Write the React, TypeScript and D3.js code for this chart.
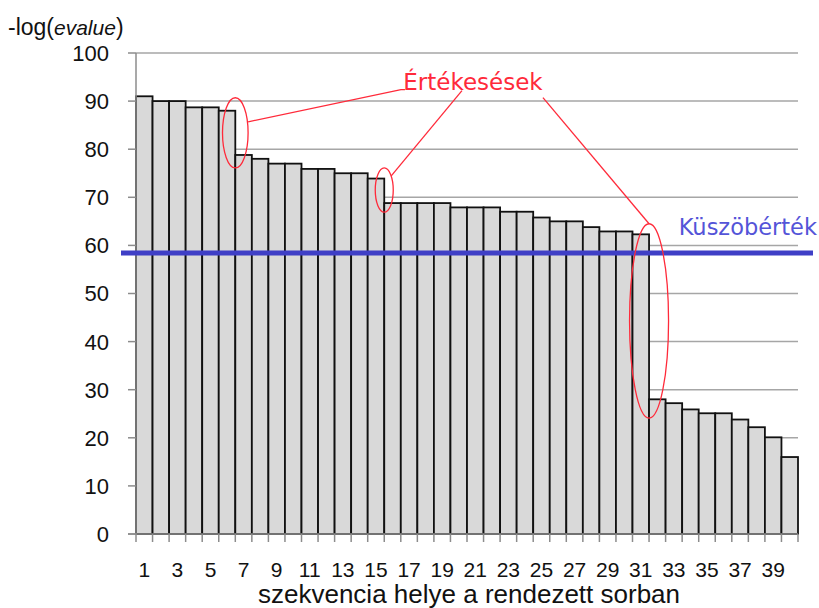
import React from "react";
import * as d3 from "d3";

// -log(evalue) of the sorted sequences
const values = [
  91, 90, 90, 88.7, 88.7, 88, 78.8, 78, 77, 77, 75.9, 75.9, 75, 75, 73.9,
  68.8, 68.8, 68.8, 68.8, 67.9, 67.9, 67.9, 67, 67, 65.8, 65, 65, 63.8, 62.9,
  62.9, 62.3, 28, 27.2, 25.9, 25.1, 25.1, 23.8, 22.2, 20.1, 16,
];
const positions = values.map((_, i) => i + 1);
const xTickLabels = positions.filter((p) => p % 2 === 1);
const yTicks = [0, 10, 20, 30, 40, 50, 60, 70, 80, 90, 100];
const threshold = 58.4;
const thresholdLabel = "Küszöbérték";
const dropLabel = "Értékesések";
// drops: bar boundary index, centre value, half height (value units)
const drops = [
  { at: 6, mid: 83.4, half: 7.3, rx: 12.8 },
  { at: 15, mid: 71.5, half: 4.6, rx: 9 },
  { at: 31, mid: 44.3, half: 20.2, rx: 19.5 },
];
const yTitle = "-log(";
const yTitleItalic = "evalue";
const xTitle = "szekvencia helye a rendezett sorban";

const width = 819;
const height = 608;
const margins = { top: 53, right: 21, bottom: 74, left: 136 };

const App = () => {
  const x = d3
    .scaleBand<number>()
    .domain(positions)
    .range([margins.left, width - margins.right])
    .padding(0);
  const y = d3
    .scaleLinear()
    .domain([0, 100])
    .range([height - margins.bottom, margins.top]);
  // boundary scale for annotations (0..40 bar edges)
  const xb = d3
    .scaleLinear()
    .domain([0, positions.length])
    .range([margins.left, width - margins.right]);

  const y0 = y(0);
  const right = width - margins.right;
  const red = "#ff2a3a";
  const axisFont = "'Liberation Sans', Arial, sans-serif";
  const annFont = "'DejaVu Sans', Verdana, sans-serif";

  const e1 = drops[0];
  const e2 = drops[1];
  const e3 = drops[2];
  const textX = xb(20.36);
  const textY = y(92.4);

  return (
    <svg
      width={width}
      height={height}
      style={{ position: "absolute", left: 0, top: 0, background: "#fff" }}
    >
      {/* grid */}
      {yTicks
        .filter((t) => t > 0)
        .map((t) => (
          <line
            key={t}
            x1={margins.left}
            x2={right}
            y1={y(t)}
            y2={y(t)}
            stroke="#a6a6a6"
            strokeWidth={1.5}
          />
        ))}
      {/* bars */}
      {values.map((v, i) => (
        <rect
          key={i}
          x={x(positions[i])}
          y={y(v)}
          width={x.bandwidth()}
          height={y0 - y(v)}
          fill="#d9d9d9"
          stroke="#111"
          strokeWidth={1.8}
        />
      ))}
      {/* y axis */}
      <line
        x1={margins.left}
        x2={margins.left}
        y1={margins.top}
        y2={y0}
        stroke="#8c8c8c"
        strokeWidth={1.5}
      />
      {yTicks.map((t) => (
        <g key={t}>
          <line
            x1={margins.left - 8}
            x2={margins.left}
            y1={y(t)}
            y2={y(t)}
            stroke="#8c8c8c"
            strokeWidth={1.5}
          />
          <text
            x={109}
            y={y(t)}
            dy="0.36em"
            textAnchor="end"
            fontFamily={axisFont}
            fontSize={22}
            fill="#111"
          >
            {t}
          </text>
        </g>
      ))}
      {/* x axis */}
      <line
        x1={margins.left - 8}
        x2={right}
        y1={y0}
        y2={y0}
        stroke="#8c8c8c"
        strokeWidth={1.5}
      />
      {d3.range(positions.length + 1).map((k) => (
        <line
          key={k}
          x1={xb(k)}
          x2={xb(k)}
          y1={y0}
          y2={y0 + 8}
          stroke="#8c8c8c"
          strokeWidth={1.5}
        />
      ))}
      {xTickLabels.map((p) => (
        <text
          key={p}
          x={x(p)! + x.bandwidth() / 2}
          y={577}
          textAnchor="middle"
          fontFamily={axisFont}
          fontSize={21}
          fill="#111"
        >
          {p}
        </text>
      ))}
      <text
        x={(margins.left + right) / 2 + 2}
        y={603}
        textAnchor="middle"
        fontFamily={axisFont}
        fontSize={26}
        fill="#111"
      >
        {xTitle}
      </text>
      <text x={8} y={35} fontFamily={axisFont} fill="#111">
        <tspan fontSize={23}>{yTitle}</tspan>
        <tspan fontSize={21} fontStyle="italic">
          {yTitleItalic}
        </tspan>
        <tspan fontSize={23}>)</tspan>
      </text>
      {/* threshold */}
      <line
        x1={121}
        x2={813}
        y1={y(threshold)}
        y2={y(threshold)}
        stroke="#3f3fc6"
        strokeWidth={5}
      />
      <text
        x={817}
        y={235}
        textAnchor="end"
        fontFamily={annFont}
        fontSize={22.5}
        fill="#5454d8"
      >
        {thresholdLabel}
      </text>
      {/* drop annotations */}
      {drops.map((d, i) => (
        <ellipse
          key={i}
          cx={xb(d.at)}
          cy={y(d.mid)}
          rx={d.rx}
          ry={y(d.mid - d.half) - y(d.mid)}
          fill="none"
          stroke={red}
          strokeWidth={1.3}
        />
      ))}
      <polyline
        points={`${xb(e1.at) + e1.rx},${y(e1.mid) - 11} ${textX - 72},${textY} ${textX - 68},${textY}`}
        fill="none"
        stroke={red}
        strokeWidth={1.3}
      />
      <line
        x1={xb(e2.at) + 7}
        y1={y(e2.mid + e2.half) + 8}
        x2={textX - 11}
        y2={textY + 1}
        stroke={red}
        strokeWidth={1.3}
      />
      <line
        x1={textX + 70}
        y1={textY + 8}
        x2={xb(e3.at)}
        y2={y(e3.mid + e3.half)}
        stroke={red}
        strokeWidth={1.3}
      />
      <text
        x={textX}
        y={textY}
        textAnchor="middle"
        fontFamily={annFont}
        fontSize={23}
        fill={red}
      >
        {dropLabel}
      </text>
    </svg>
  );
};

export default App;
